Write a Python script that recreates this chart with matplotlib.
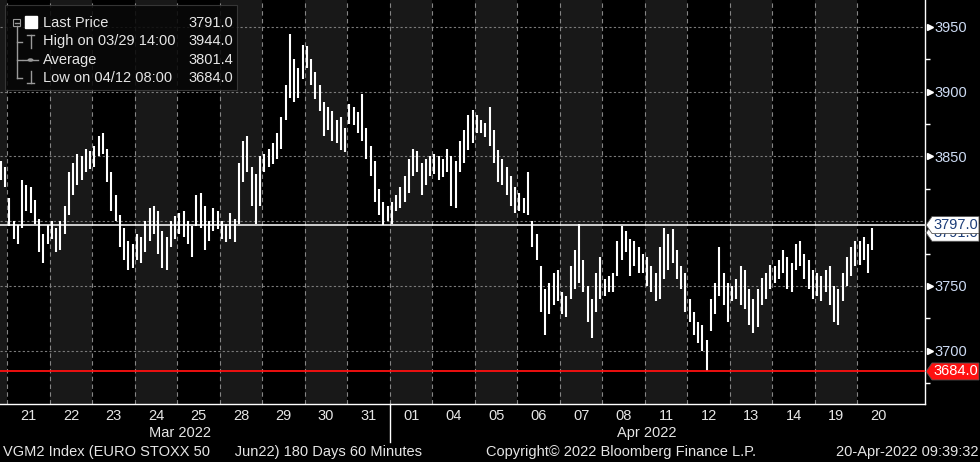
import matplotlib.pyplot as plt
import matplotlib.transforms as mtransforms
from matplotlib.patches import Polygon, Rectangle, Circle
from matplotlib.lines import Line2D

plt.rcParams['font.family'] = ['Liberation Sans', 'DejaVu Sans']

# trading days shown on the axis (index 0 = 21 Mar); the chart starts with the tail of 18 Mar
day_labels = ['21', '22', '23', '24', '25', '28', '29', '30', '31', '01',
              '04', '05', '06', '07', '08', '11', '12', '13', '14', '19', '20']
month_labels = ['Mar 2022', 'Apr 2022']
month_pos = [4.06, 15.05]
bars_per_day = [2, 10, 10, 10, 10, 10, 10, 10, 10, 10, 10,
                10, 10, 10, 10, 10, 10, 10, 10, 10, 10, 4]

# 60-minute bars
bar_high = [
    3846, 3842,                                                   # 18
    3818, 3800, 3797, 3832, 3828, 3826, 3816, 3802, 3790, 3797,   # 21
    3800, 3795, 3800, 3812, 3838, 3845, 3852, 3850, 3856, 3854,   # 22
    3858, 3866, 3868, 3856, 3838, 3820, 3805, 3795, 3785, 3782,   # 23
    3790, 3788, 3800, 3810, 3812, 3808, 3792, 3788, 3800, 3804,   # 24
    3806, 3808, 3800, 3796, 3820, 3822, 3812, 3800, 3810, 3808,   # 25
    3800, 3798, 3806, 3802, 3845, 3862, 3866, 3842, 3836, 3850,   # 28
    3852, 3856, 3860, 3868, 3880, 3905, 3944, 3925, 3918, 3936,   # 29
    3935, 3925, 3915, 3905, 3892, 3888, 3885, 3878, 3880, 3872,   # 30
    3890, 3888, 3884, 3898, 3872, 3858, 3846, 3825, 3815, 3812,   # 31
    3815, 3820, 3826, 3835, 3848, 3856, 3854, 3845, 3848, 3850,   # 01
    3852, 3850, 3848, 3856, 3850, 3846, 3862, 3870, 3882, 3886,   # 04
    3882, 3878, 3876, 3888, 3870, 3855, 3848, 3842, 3835, 3826,   # 05
    3822, 3818, 3838, 3800, 3790, 3765, 3748, 3752, 3760, 3762,   # 06
    3745, 3742, 3765, 3778, 3798, 3770, 3750, 3740, 3760, 3772,   # 07
    3755, 3758, 3760, 3785, 3796, 3792, 3786, 3785, 3780, 3775,   # 08
    3772, 3765, 3760, 3780, 3795, 3790, 3794, 3778, 3765, 3760,   # 11
    3740, 3730, 3722, 3720, 3708, 3740, 3752, 3780, 3760, 3752,   # 12
    3750, 3755, 3765, 3762, 3748, 3740, 3748, 3756, 3760, 3766,   # 13
    3765, 3770, 3778, 3772, 3768, 3782, 3785, 3775, 3770, 3762,   # 14
    3760, 3758, 3762, 3765, 3750, 3748, 3760, 3772, 3780, 3785,   # 19
    3785, 3788, 3782, 3795,                                       # 20
]
bar_low = [
    3832, 3826,
    3796, 3786, 3782, 3795, 3808, 3806, 3798, 3776, 3768, 3782,
    3786, 3776, 3778, 3790, 3805, 3820, 3828, 3832, 3838, 3840,
    3842, 3850, 3852, 3830, 3808, 3800, 3780, 3770, 3762, 3764,
    3770, 3768, 3776, 3785, 3790, 3775, 3764, 3762, 3780, 3786,
    3790, 3788, 3782, 3772, 3796, 3795, 3778, 3785, 3792, 3794,
    3786, 3784, 3786, 3784, 3798, 3830, 3838, 3812, 3798, 3812,
    3838, 3842, 3844, 3848, 3856, 3878, 3895, 3892, 3895, 3910,
    3918, 3905, 3894, 3885, 3866, 3870, 3862, 3860, 3855, 3853,
    3875, 3874, 3868, 3862, 3848, 3835, 3815, 3805, 3797, 3800,
    3798, 3808, 3810, 3815, 3822, 3835, 3838, 3820, 3828, 3835,
    3836, 3832, 3834, 3838, 3812, 3810, 3838, 3845, 3855, 3860,
    3868, 3868, 3865, 3858, 3845, 3830, 3828, 3820, 3812, 3806,
    3808, 3806, 3805, 3780, 3770, 3730, 3712, 3728, 3735, 3738,
    3728, 3726, 3740, 3748, 3752, 3745, 3722, 3710, 3730, 3740,
    3742, 3745, 3745, 3758, 3770, 3776, 3758, 3765, 3760, 3760,
    3750, 3745, 3738, 3740, 3755, 3762, 3768, 3755, 3748, 3730,
    3722, 3712, 3706, 3700, 3684, 3715, 3728, 3742, 3735, 3722,
    3738, 3740, 3735, 3732, 3720, 3714, 3718, 3735, 3740, 3748,
    3752, 3755, 3760, 3748, 3745, 3762, 3765, 3755, 3748, 3740,
    3742, 3738, 3745, 3735, 3722, 3720, 3738, 3750, 3758, 3765,
    3766, 3770, 3760, 3778,
]

last_price = 3791.0
high_price = 3944.0
avg_price = 3801.4
low_price = 3684.0
ref_line = 3797.0

legend_rows = ['Last Price', 'High on 03/29 14:00', 'Average', 'Low on 04/12 08:00']
legend_vals = [last_price, high_price, avg_price, low_price]

W, H = 980, 462
BG = 'black'
SHADE = '#181818'
TXT = '#e6e6e6'
AXTXT = '#cddbf3'


def fx(px):
    return px / W


def fy(py):
    return 1 - py / H


# bar positions in "day" units
xs = []
for k, n in enumerate(bars_per_day):
    day = k - 1
    off = 10 - n if k == 0 else 0
    for j in range(n):
        xs.append(day + (off + j + 0.5) / 10)

fig = plt.figure(figsize=(W / 100, H / 100), dpi=100, facecolor=BG)
ax_l, ax_r, ax_b = 0, 925, 404
ax = fig.add_axes([fx(ax_l), fy(ax_b), (ax_r - ax_l) / W, ax_b / H])
ax.set_facecolor(BG)
x0, x1 = -0.172, 21.59
y0, y1 = 3658.9, 3970.6
ax.set_xlim(x0, x1)
ax.set_ylim(y0, y1)

# alternating day shading
for d in range(-1, len(day_labels)):
    if d % 2 != 0:
        ax.axvspan(d, d + 1, color=SHADE, lw=0, zorder=0)

# grid
for v in [3700, 3750, 3800, 3850, 3900, 3950]:
    ax.axhline(v, color='#7a7a7a', lw=0.8, ls=(0, (2, 2)), zorder=1)
for d in range(0, len(day_labels)):
    ax.axvline(d, color='#858585', lw=0.8, ls=(0, (4, 3)), zorder=1)

# price bars
ax.vlines(xs, bar_low, bar_high, color='white', lw=1.5, zorder=3)

ax.axhline(ref_line, color='white', lw=1.1, zorder=4)
ax.axhline(low_price, color='#ff1010', lw=1.3, zorder=4)

# axes frame
for s in ['top', 'left']:
    ax.spines[s].set_visible(False)
for s in ['right', 'bottom']:
    ax.spines[s].set_color('white')
    ax.spines[s].set_linewidth(1.0)
ax.set_xticks([])
ax.yaxis.tick_right()
major = [3700, 3750, 3850, 3900, 3950]
ax.set_yticks(major)
ax.set_yticklabels([str(v) for v in major])
ax.set_yticks([3675, 3725, 3775, 3825, 3875, 3925], minor=True)
ax.tick_params(axis='y', which='major', length=0, pad=7, labelcolor=AXTXT, labelsize=10.5)
ax.tick_params(axis='y', which='minor', length=3.5, width=1, color='white', direction='out')
tri = mtransforms.blended_transform_factory(ax.transAxes, ax.transData)
ax.plot([1 + 5 / 925] * len(major), major, ls='none', marker='>', ms=5, color='white',
        transform=tri, clip_on=False)

# day and month labels
bt = mtransforms.blended_transform_factory(ax.transData, fig.transFigure)
for i, lab in enumerate(day_labels):
    fig.text(i + 0.5, fy(416), lab, transform=bt, ha='center', va='center', color=TXT, fontsize=10.5)
for pos, lab in zip(month_pos, month_labels):
    fig.text(pos, fy(433), lab, transform=bt, ha='center', va='center', color=TXT, fontsize=10.5)
ax.add_line(Line2D([9, 9], [fy(404), fy(442)], transform=bt, color='white', lw=1.0, clip_on=False))

# footer
fig.text(fx(3), fy(452), 'VGM2 Index (EURO STOXX 50      Jun22) 180 Days 60 Minutes',
         ha='left', va='center', color=TXT, fontsize=10.5)
fig.text(fx(486), fy(452), 'Copyright\u00a9 2022 Bloomberg Finance L.P.',
         ha='left', va='center', color=TXT, fontsize=10.5)
fig.text(fx(978), fy(452), '20-Apr-2022 09:39:32', ha='right', va='center', color=TXT, fontsize=10.5)


# price tags on the right axis
def val_to_py(v):
    return ax_b * (y1 - v) / (y1 - y0)


def price_tag(v, face, color, z):
    cy = val_to_py(v)
    pts = [(926, cy), (932, cy - 8.5), (979, cy - 8.5), (979, cy + 8.5), (932, cy + 8.5)]
    fig.patches.append(Polygon([(fx(a), fy(b)) for a, b in pts], closed=True, facecolor=face,
                               edgecolor='#555555', lw=0.6, transform=fig.transFigure, zorder=z))
    fig.text(fx(933), fy(cy), f'{v:.1f}', ha='left', va='center', color=color,
             fontsize=10.5, zorder=z + 0.1)


price_tag(last_price, 'white', '#1c3d78', 5)
price_tag(ref_line, 'white', '#1c3d78', 6)
price_tag(low_price, '#ff1010', 'white', 5)

# legend panel
fig.patches.append(Rectangle((fx(5), fy(90)), fx(232), 85 / H, facecolor='#080808', alpha=0.88,
                             edgecolor='#3c3c3c', lw=0.8, transform=fig.transFigure, zorder=5))
gray = '#9a9a9a'


def fline(xa, ya, c=gray, lw=1.0):
    fig.lines.append(Line2D([fx(p) for p in xa], [fy(p) for p in ya], color=c, lw=lw,
                            transform=fig.transFigure, zorder=6))


# tree
fig.patches.append(Rectangle((fx(13), fy(26)), 7 / W, 7 / H, facecolor='none', edgecolor=gray,
                             lw=0.8, transform=fig.transFigure, zorder=6))
fline([14.5, 18.5], [22.5, 22.5])
fline([16.5, 16.5], [26, 78])
for ry in [42, 60, 78]:
    fline([16.5, 22], [ry, ry])
fig.patches.append(Rectangle((fx(25), fy(28)), 12 / W, 12 / H, facecolor='white',
                             edgecolor='white', transform=fig.transFigure, zorder=6))
fline([27, 34], [35, 35])
fline([30.5, 30.5], [35, 48])
fline([23, 38], [60, 60])
fig.patches.append(Circle((fx(30.5), fy(60)), 2.2 / W, facecolor=gray, edgecolor=gray,
                          transform=fig.transFigure, zorder=6))
fline([30.5, 30.5], [71, 83])
fline([27, 34], [83, 83])
for i, (lab, v) in enumerate(zip(legend_rows, legend_vals)):
    ry = 23 + i * 18.3
    fig.text(fx(43), fy(ry), lab, ha='left', va='center', color=TXT, fontsize=10.5, zorder=7)
    fig.text(fx(233), fy(ry), f'{v:.1f}', ha='right', va='center', color=TXT, fontsize=10.5, zorder=7)

fig.savefig('out.png', dpi=100, facecolor=BG)
